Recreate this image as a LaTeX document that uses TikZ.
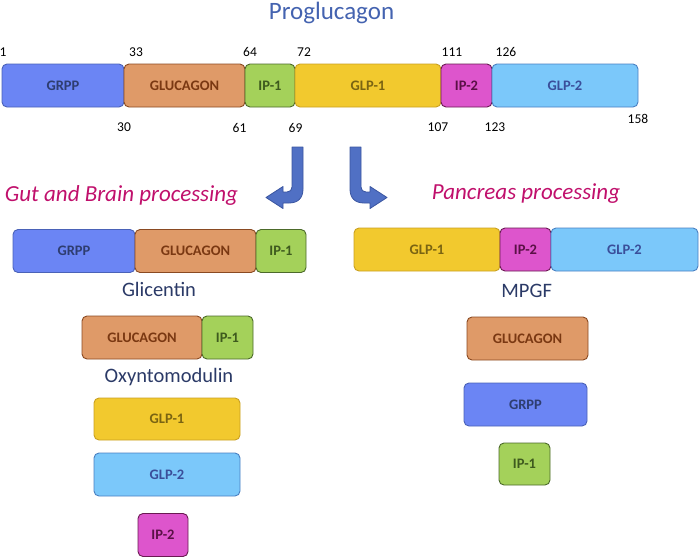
\documentclass[tikz,border=0pt]{standalone}
\usepackage{fontspec}
\setmainfont{Carlito}
\definecolor{grppfill}{HTML}{6B85F4}
\definecolor{grppline}{HTML}{4A62B8}
\definecolor{grpptext}{HTML}{2E3D70}
\definecolor{glucfill}{HTML}{DF9A68}
\definecolor{glucline}{HTML}{8A4A22}
\definecolor{gluctext}{HTML}{7A3812}
\definecolor{ipofill}{HTML}{A4D15A}
\definecolor{ipoline}{HTML}{4C6A2A}
\definecolor{ipotext}{HTML}{3E5A1E}
\definecolor{glpofill}{HTML}{F2C92E}
\definecolor{glpoline}{HTML}{C9A022}
\definecolor{glpotext}{HTML}{7A6412}
\definecolor{iptfill}{HTML}{DD55CC}
\definecolor{iptline}{HTML}{6A1A52}
\definecolor{ipttext}{HTML}{5A1046}
\definecolor{glptfill}{HTML}{7BC8FA}
\definecolor{glptline}{HTML}{4A80C2}
\definecolor{glpttext}{HTML}{3A4E9A}
\definecolor{arrowfill}{HTML}{5070C4}
\definecolor{arrowline}{HTML}{3A55A0}
\definecolor{titleblue}{HTML}{4463B0}
\definecolor{labelnavy}{HTML}{2B3A67}
\definecolor{procpink}{HTML}{C0106C}
\tikzset{
  seg/.style={draw, rounded corners=5pt, line width=0.9pt, minimum height=43pt,
    inner sep=0pt, font=\fontsize{14.5}{16}\selectfont\bfseries},
  grpp/.style={seg, fill=grppfill, draw=grppline, text=grpptext},
  gluc/.style={seg, fill=glucfill, draw=glucline, text=gluctext},
  ipone/.style={seg, fill=ipofill, draw=ipoline, text=ipotext},
  glpone/.style={seg, fill=glpofill, draw=glpoline, text=glpotext},
  iptwo/.style={seg, fill=iptfill, draw=iptline, text=ipttext},
  glptwo/.style={seg, fill=glptfill, draw=glptline, text=glpttext},
  resnum/.style={font=\fontsize{13.5}{15}\selectfont, inner sep=0pt},
  peptide/.style={anchor=base, inner sep=0pt, text=labelnavy, font=\fontsize{20.5}{24}\selectfont},
  proc/.style={anchor=base, inner sep=0pt, text=procpink, font=\fontsize{23}{26}\selectfont\itshape},
  bentarrow/.style={fill=arrowfill, draw=arrowline, line width=0.8pt, line join=round}
}
\begin{document}
\begin{tikzpicture}[x=1pt, y=-1pt]
\useasboundingbox (0,0) rectangle (699,558);
% title
\node[anchor=base, inner sep=0pt, text=titleblue, font=\fontsize{25}{28}\selectfont] (title) at (331.5,19.5) {Proglucagon};
% full precursor
\node[grpp, minimum width=122pt] (grpp) at (63,85.5) {GRPP};
\node[gluc, minimum width=121pt] (gluc) at (184.5,85.5) {GLUCAGON};
\node[ipone, minimum width=50pt] (ipone) at (270,85.5) {IP-1};
\node[glpone, minimum width=146pt] (glpone) at (368,85.5) {GLP-1};
\node[iptwo, minimum width=51pt] (iptwo) at (466.5,85.5) {IP-2};
\node[glptwo, minimum width=146pt] (glptwo) at (565,85.5) {GLP-2};
% residue numbers
\node[resnum] (n1) at (3,52) {1};
\node[resnum] (n33) at (136,52) {33};
\node[resnum] (n64) at (250,52) {64};
\node[resnum] (n72) at (304,52) {72};
\node[resnum] (n111) at (452,52) {111};
\node[resnum] (n126) at (506,52) {126};
\node[resnum] (n30) at (124,127.5) {30};
\node[resnum] (n61) at (239.5,127.5) {61};
\node[resnum] (n69) at (295.5,127.5) {69};
\node[resnum] (n107) at (438,127.5) {107};
\node[resnum] (n123) at (495,127.5) {123};
\node[resnum] (n158) at (638,118.5) {158};
% bent arrows
\draw[bentarrow] (292,147) -- (303,147) -- (303,189) .. controls (303,198) and (298,203) .. (289,203)
  -- (283,203) -- (283,208.5) -- (266,197.5) -- (283,186.5) -- (283,192) -- (287,192)
  .. controls (290,192) and (292,190) .. (292,187) -- cycle;
\begin{scope}[xshift=653pt, xscale=-1]
\draw[bentarrow] (292,147) -- (303,147) -- (303,189) .. controls (303,198) and (298,203) .. (289,203)
  -- (283,203) -- (283,208.5) -- (266,197.5) -- (283,186.5) -- (283,192) -- (287,192)
  .. controls (290,192) and (292,190) .. (292,187) -- cycle;
\end{scope}
\node[proc] (gut) at (121.5,201.7) {Gut and Brain processing};
\node[proc] (pancreas) at (526,199.3) {Pancreas processing};
% gut and brain products
\node[grpp, minimum width=122pt] (ggrpp) at (74,251) {GRPP};
\node[gluc, minimum width=121pt] (ggluc) at (195.5,251) {GLUCAGON};
\node[ipone, minimum width=50pt] (gipone) at (281,251) {IP-1};
\node[peptide] (glicentin) at (159,296) {Glicentin};
\node[gluc, minimum width=120pt] (ogluc) at (142,337.5) {GLUCAGON};
\node[ipone, minimum width=51pt] (oipone) at (227.5,337.5) {IP-1};
\node[peptide] (oxm) at (169,382.7) {Oxyntomodulin};
\node[glpone, minimum width=146pt, minimum height=42pt] (gglpone) at (167,419) {GLP-1};
\node[glptwo, minimum width=146pt] (gglptwo) at (167,474.5) {GLP-2};
\node[iptwo, minimum width=50pt] (giptwo) at (163,535) {IP-2};
% pancreas products
\node[glpone, minimum width=146pt] (pglpone) at (427,249.5) {GLP-1};
\node[iptwo, minimum width=51pt] (piptwo) at (525.5,249.5) {IP-2};
\node[glptwo, minimum width=147pt] (pglptwo) at (624.5,249.5) {GLP-2};
\node[peptide] (mpgf) at (526.7,297.7) {MPGF};
\node[gluc, minimum width=121pt] (pgluc) at (527.5,338.5) {GLUCAGON};
\node[grpp, minimum width=123pt] (pgrpp) at (525.5,404.5) {GRPP};
\node[ipone, minimum width=51pt, minimum height=42pt] (pipone) at (524.5,464) {IP-1};
\end{tikzpicture}
\end{document}
